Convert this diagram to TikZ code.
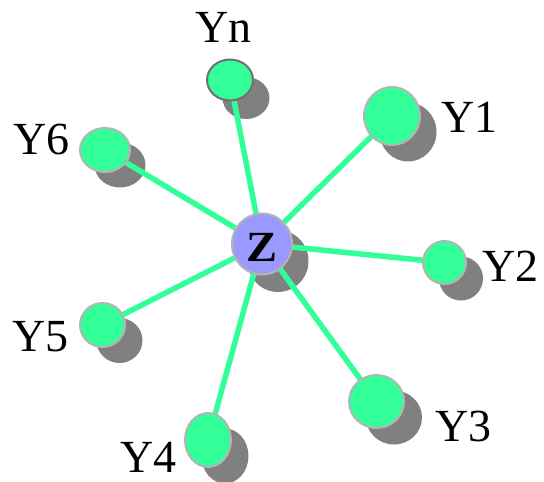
\documentclass[tikz,border=0pt]{standalone}
\usepackage{fontspec}
\setmainfont{Liberation Serif}
\usetikzlibrary{shapes.geometric}
\definecolor{ngreen}{HTML}{33FF99}
\definecolor{nblue}{HTML}{9999FF}
\definecolor{nshadow}{HTML}{808080}
\definecolor{nrim}{HTML}{B4B4B4}
\definecolor{nrimdark}{HTML}{707070}
\pgfdeclarelayer{shad}
\pgfdeclarelayer{edges}
\pgfsetlayers{shad,edges,main}
\tikzset{
  dot/.style={ellipse, draw=nrim, line width=2pt, fill=ngreen, inner sep=0pt},
  hub/.style={ellipse, draw=nrim, line width=2pt, fill=nblue, inner sep=0pt},
  shade/.style={ellipse, fill=nshadow, inner sep=0pt},
  link/.style={draw=ngreen, line width=5.5pt},
  lab/.style={inner sep=0pt, font=\fontsize{46}{46}\selectfont}
}
\begin{document}
\begin{tikzpicture}[x=1pt,y=-1pt]
\useasboundingbox (0,0) rectangle (544,482);
% nodes
\node[hub, minimum width=60pt, minimum height=61pt] (z) at (262,244) {};
\node[inner sep=0pt, xscale=1.08, font=\fontsize{43}{43}\selectfont\bfseries] (zt) at (262,247) {Z};
\node[dot, draw=nrimdark, minimum width=46pt, minimum height=41pt] (yn) at (230,80) {};
\node[dot, minimum width=56pt, minimum height=58pt] (y1) at (392,116) {};
\node[dot, minimum width=43pt, minimum height=43pt] (y2) at (444.5,262.5) {};
\node[dot, minimum width=55pt, minimum height=53pt] (y3) at (376.5,401.5) {};
\node[dot, minimum width=46pt, minimum height=54pt] (y4) at (208,440) {};
\node[dot, minimum width=45pt, minimum height=44pt] (y5) at (102.5,325) {};
\node[dot, minimum width=50pt, minimum height=44pt] (y6) at (105,150) {};
% shadows
\begin{pgfonlayer}{shad}
\node[shade, minimum width=61pt, minimum height=62pt] (sz) at (278,261) {};
\node[shade, minimum width=47pt, minimum height=42pt] (syn) at (246,98) {};
\node[shade, minimum width=57pt, minimum height=59pt] (sy1) at (408,132) {};
\node[shade, minimum width=44pt, minimum height=44pt] (sy2) at (461,278.5) {};
\node[shade, minimum width=56pt, minimum height=54pt] (sy3) at (394,417.5) {};
\node[shade, minimum width=47pt, minimum height=55pt] (sy4) at (225,456) {};
\node[shade, minimum width=46pt, minimum height=45pt] (sy5) at (119.5,340.5) {};
\node[shade, minimum width=51pt, minimum height=45pt] (sy6) at (120,165) {};
\end{pgfonlayer}
% edges
\begin{pgfonlayer}{edges}
\foreach \t in {yn,y1,y2,y3,y4,y5,y6}
  \draw[link] (z.center) -- (\t.center);
\end{pgfonlayer}
% labels
\node[lab] (lyn) at (223.5,27) {Yn};
\node[lab] (ly1) at (469.5,117.5) {Y1};
\node[lab] (ly2) at (510.5,266) {Y2};
\node[lab] (ly3) at (463.5,426.5) {Y3};
\node[lab] (ly4) at (148.5,457.5) {Y4};
\node[lab] (ly5) at (40.5,336.5) {Y5};
\node[lab] (ly6) at (41.5,139.5) {Y6};
\end{tikzpicture}
\end{document}
